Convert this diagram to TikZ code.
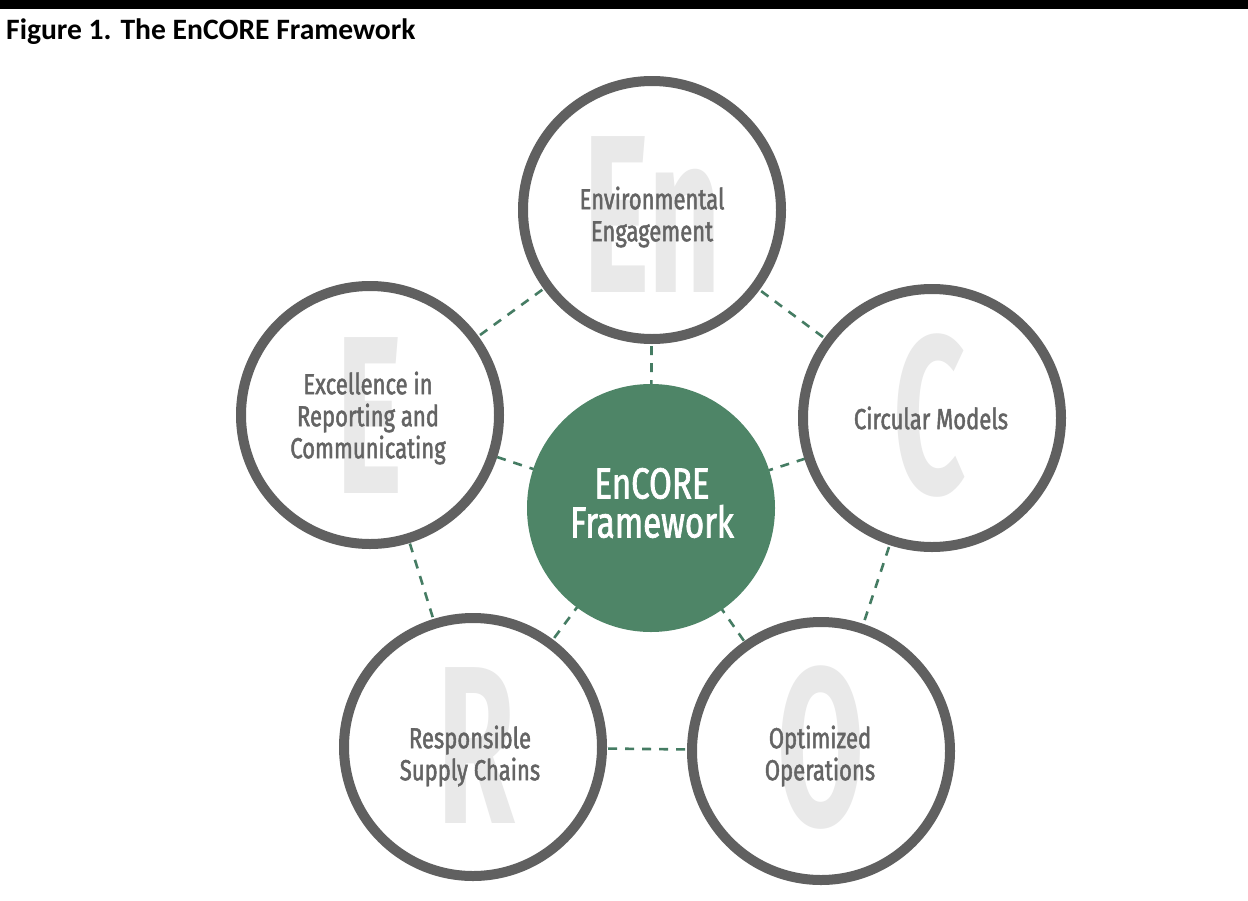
\documentclass[tikz,border=0pt]{standalone}
\usepackage{fontspec}
\setmainfont{Carlito}
\newfontfamily\labelfont[FakeStretch=0.76,FakeBold=1.6]{Fira Sans}
\newfontfamily\bigletterfont[FakeStretch=0.56]{Fira Sans}
\definecolor{ringgray}{HTML}{606060}
\definecolor{labelgray}{HTML}{646464}
\definecolor{lettergray}{HTML}{E9E9E9}
\definecolor{coregreen}{HTML}{4E8567}
\definecolor{dashgreen}{HTML}{457C63}
\tikzset{
  ring/.style={circle, draw=ringgray, line width=10pt, fill=white, minimum size=258pt, inner sep=0pt},
  core/.style={circle, fill=coregreen, minimum size=248pt, inner sep=0pt},
  link/.style={draw=dashgreen, line width=2.6pt, dash pattern=on 9pt off 8pt},
  biglet/.style={anchor=base, text=lettergray, font=\bigletterfont\bfseries\fontsize{225}{225}\selectfont, inner sep=0pt},
  lbl/.style={align=center, text=labelgray, font=\labelfont\fontsize{29}{32}\selectfont, inner sep=0pt},
  corelbl/.style={align=center, text=white, font=\labelfont\fontsize{43.5}{39}\selectfont, inner sep=0pt},
}
\begin{document}
\begin{tikzpicture}[x=1pt, y=-1pt]
\useasboundingbox (0,0) rectangle (1248,900);
\fill[white] (0,0) rectangle (1248,900);
\fill[black] (0,0) rectangle (1248,9);
\node[anchor=base west, inner sep=0pt, font=\bfseries\fontsize{29.6}{32}\selectfont] (title) at (6,39) {Figure 1. The EnCORE Framework};

% centers
\coordinate (cT) at (652,210);
\coordinate (cL) at (370,415);
\coordinate (cR) at (932,418);
\coordinate (cBL) at (473,747);
\coordinate (cBR) at (821,751);
\coordinate (cC) at (651,508);

% dashed links (drawn behind)
\draw[link] (cC) -- (cT);
\draw[link] (cC) -- (cL);
\draw[link] (cC) -- (cR);
\draw[link] (cC) -- (cBL);
\draw[link] (cC) -- (cBR);
\draw[link] (cT) -- (cR);
\draw[link] (cR) -- (cBR);
\draw[link] (cBR) -- (cBL);
\draw[link] (cBL) -- (cL);
\draw[link] (cL) -- (cT);

% rings
\node[ring] (top) at (cT) {};
\node[ring] (left) at (cL) {};
\node[ring] (right) at (cR) {};
\node[ring] (bl) at (cBL) {};
\node[ring] (br) at (cBR) {};
\node[core] (center) at (cC) {};

% big letters
\node[biglet] (lT) at (652,292) {En};
\node[biglet] (lL) at (370,493) {E};
\node[biglet] (lR) at (930,493) {C};
\node[biglet] (lBL) at (476,823) {R};
\node[biglet] (lBR) at (821,825) {O};

% labels
\node[lbl] (tT) at (652,217) {Environmental\\Engagement};
\node[lbl] (tL) at (368,418) {Excellence in\\Reporting and\\Communicating};
\node[lbl] (tR) at (931,418) {Circular Models};
\node[lbl] (tBL) at (470,756) {Responsible\\Supply Chains};
\node[lbl] (tBR) at (820,756) {Optimized\\Operations};
\node[corelbl] (tC) at (652,503) {EnCORE\\Framework};
\end{tikzpicture}
\end{document}
